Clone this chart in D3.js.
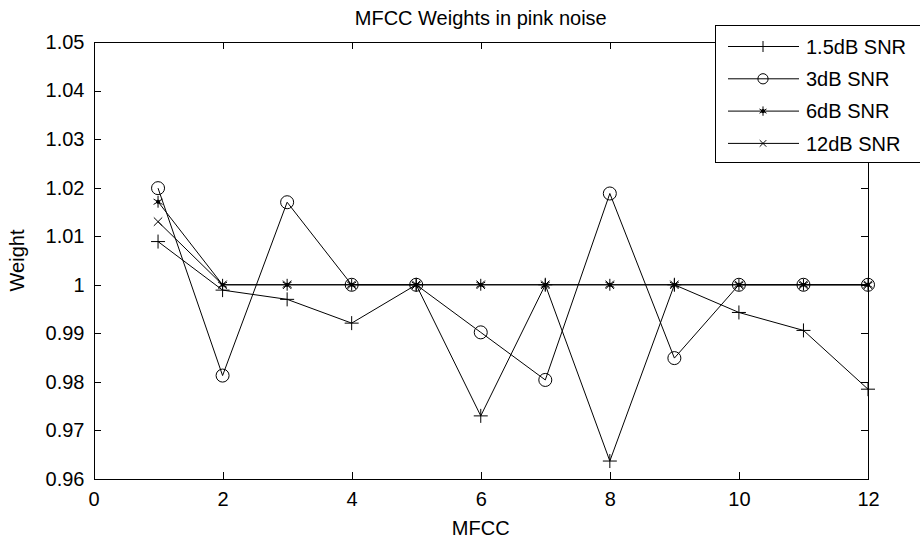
<!DOCTYPE html>
<html>
<head>
<meta charset="utf-8">
<script src="https://cdn.jsdelivr.net/npm/d3@7"></script>
<style>
  html, body { margin: 0; padding: 0; background: #fff; }
  svg { display: block; font-family: "Liberation Sans", Arial, sans-serif; }
</style>
</head>
<body>
<svg id="chart" width="920" height="542"></svg>
<script>
// ---- data ----
const mfcc = [1, 2, 3, 4, 5, 6, 7, 8, 9, 10, 11, 12];
const snr1_5 = [1.0089, 0.9989, 0.9970, 0.9921, 1.0000, 0.9730, 1.0000, 0.9637, 1.0000, 0.9943, 0.9906, 0.9785];
const snr3   = [1.0199, 0.9813, 1.0170, 1.0000, 1.0000, 0.9902, 0.9804, 1.0188, 0.9849, 1.0000, 1.0000, 1.0000];
const snr6   = [1.0171, 1.0000, 1.0000, 1.0000, 1.0000, 1.0000, 1.0000, 1.0000, 1.0000, 1.0000, 1.0000, 1.0000];
const snr12  = [1.0130, 1.0000, 1.0000, 1.0000, 1.0000, 1.0000, 1.0000, 1.0000, 1.0000, 1.0000, 1.0000, 1.0000];
const seriesNames = ["1.5dB SNR", "3dB SNR", "6dB SNR", "12dB SNR"];
const seriesMarkers = ["plus", "circle", "asterisk", "cross"];
const xTicks = [0, 2, 4, 6, 8, 10, 12];
const xTickLabels = ["0", "2", "4", "6", "8", "10", "12"];
const yTicks = [0.96, 0.97, 0.98, 0.99, 1.00, 1.01, 1.02, 1.03, 1.04, 1.05];
const yTickLabels = ["0.96", "0.97", "0.98", "0.99", "1", "1.01", "1.02", "1.03", "1.04", "1.05"];
const titleText = "MFCC Weights in pink noise";
const xLabelText = "MFCC";
const yLabelText = "Weight";

const seriesValues = [snr1_5, snr3, snr6, snr12];
const series = seriesNames.map((name, i) => ({
  name, marker: seriesMarkers[i],
  points: mfcc.map((m, j) => ({ x: m, y: seriesValues[i][j] }))
}));

// ---- layout ----
const L = 93.5, R = 868, T = 42, B = 479;
const FS = 20;
const svg = d3.select("#chart");
const x = d3.scaleLinear().domain([0, 12]).range([L, R]);
const y = d3.scaleLinear().domain([0.96, 1.05]).range([B, T]);

// axes box
const tick = 7;
const axB = svg.append("g").attr("transform", `translate(0,${B})`)
  .call(d3.axisBottom(x).tickValues(xTicks).tickSize(-tick).tickSizeOuter(0).tickPadding(13)
    .tickFormat((d, i) => xTickLabels[i]));
const axT = svg.append("g").attr("transform", `translate(0,${T})`)
  .call(d3.axisTop(x).tickValues(xTicks).tickSize(-tick).tickSizeOuter(0).tickFormat(""));
const axL = svg.append("g").attr("transform", `translate(${L},0)`)
  .call(d3.axisLeft(y).tickValues(yTicks).tickSize(-tick).tickSizeOuter(0).tickPadding(9)
    .tickFormat((d, i) => yTickLabels[i]));
const axR = svg.append("g").attr("transform", `translate(${R},0)`)
  .call(d3.axisRight(y).tickValues(yTicks).tickSize(-tick).tickSizeOuter(0).tickFormat(""));
[axB, axT, axL, axR].forEach(g => {
  g.selectAll("path, line").attr("stroke", "#000").attr("stroke-width", 1).attr("shape-rendering", "crispEdges");
  g.selectAll("text").attr("fill", "#000").attr("font-size", FS)
    .attr("font-family", "'Liberation Sans', Arial, sans-serif");
});

// marker drawing
function drawMarker(g, type, cx, cy, s) {
  const st = { stroke: "#000", "stroke-width": 1, fill: "none" };
  const add = (tag, attrs) => { const e = g.append(tag); Object.entries({ ...st, ...attrs }).forEach(([k, v]) => e.attr(k, v)); };
  if (type === "plus") {
    add("line", { x1: cx - s, x2: cx + s, y1: cy, y2: cy });
    add("line", { x1: cx, x2: cx, y1: cy - s, y2: cy + s });
  } else if (type === "circle") {
    add("circle", { cx, cy, r: s * 0.93 });
  } else if (type === "asterisk") {
    const a = s * 0.85;
    add("line", { x1: cx, x2: cx, y1: cy - a, y2: cy + a });
    add("line", { x1: cx - a * 0.75, x2: cx + a * 0.75, y1: cy - a * 0.45, y2: cy + a * 0.45 });
    add("line", { x1: cx - a * 0.75, x2: cx + a * 0.75, y1: cy + a * 0.45, y2: cy - a * 0.45 });
    add("circle", { cx, cy, r: 1.6, fill: "#000" });
  } else if (type === "cross") {
    const a = s * 0.6;
    add("line", { x1: cx - a, x2: cx + a, y1: cy - a, y2: cy + a });
    add("line", { x1: cx - a, x2: cx + a, y1: cy + a, y2: cy - a });
  }
}

const line = d3.line().x(d => x(d.x)).y(d => y(d.y));
series.forEach(s => {
  const g = svg.append("g");
  g.append("path").datum(s.points).attr("d", line)
    .attr("fill", "none").attr("stroke", "#000").attr("stroke-width", 1);
  s.points.forEach(p => drawMarker(g, s.marker, x(p.x), y(p.y), 7));
});

// title and labels
svg.append("text").attr("x", (L + R) / 2).attr("y", 25).attr("text-anchor", "middle")
  .attr("font-size", FS).attr("fill", "#000").text(titleText);
svg.append("text").attr("x", (L + R) / 2).attr("y", 535).attr("text-anchor", "middle")
  .attr("font-size", FS).attr("fill", "#000").text(xLabelText);
svg.append("text").attr("transform", `translate(24,${(T + B) / 2}) rotate(-90)`).attr("text-anchor", "middle")
  .attr("font-size", FS).attr("fill", "#000").text(yLabelText);

// legend
const lg = svg.append("g");
lg.append("rect").attr("x", 715.5).attr("y", 25.5).attr("width", 230).attr("height", 137)
  .attr("fill", "#fff").attr("stroke", "#000").attr("stroke-width", 1).attr("shape-rendering", "crispEdges");
series.forEach((s, i) => {
  const ry = 46.5 + i * 32.3;
  lg.append("line").attr("x1", 728).attr("x2", 799).attr("y1", ry).attr("y2", ry)
    .attr("stroke", "#000").attr("stroke-width", 1);
  drawMarker(lg, s.marker, 763, ry, 5.5);
  lg.append("text").attr("x", 806).attr("y", ry).attr("dy", "0.36em")
    .attr("font-size", FS).attr("fill", "#000").text(s.name);
});
</script>
</body>
</html>
